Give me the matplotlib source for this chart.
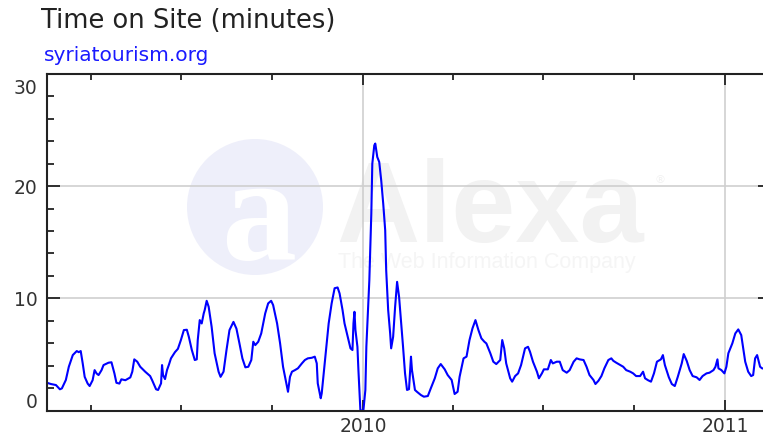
import numpy as np
import pandas as pd
import matplotlib
matplotlib.use("Agg")
import matplotlib.pyplot as plt
import matplotlib.dates as mdates
from matplotlib.patches import Ellipse
from matplotlib.ticker import MultipleLocator
from matplotlib.transforms import ScaledTranslation

# average time on site, sampled every few days from 2009-02-16
start_date = "2009-02-16"
days = [0, 4, 9, 13, 15, 19, 22, 26, 30, 32, 34, 36, 38, 41, 43, 46, 48, 50, 52, 55,
        57, 62, 65, 68, 70, 73, 75, 79, 84, 86, 88, 91, 94, 99, 104, 106, 110, 112, 115, 116,
        117, 119, 121, 123, 125, 129, 132, 135, 138, 141, 143, 146, 149, 151, 152, 154, 156, 158, 159, 161,
        163, 166, 169, 173, 175, 178, 181, 184, 188, 191, 194, 197, 200, 203, 206, 208, 210, 213, 216, 220,
        223, 226, 228, 232, 235, 238, 242, 243, 245, 247, 250, 253, 257, 260, 263, 267, 270, 272, 273, 276,
        277, 280, 284, 287, 290, 293, 295, 298, 300, 304, 306, 308, 309, 310, 311, 313, 314, 316, 319, 321,
        322, 325, 327, 328, 330, 331, 333, 335, 337, 339, 341, 342, 344, 346, 347, 349, 351, 353, 355, 357,
        359, 361, 363, 365, 367, 368, 371, 373, 377, 380, 384, 387, 391, 394, 397, 401, 404, 408, 411, 414,
        416, 420, 423, 426, 429, 432, 435, 438, 441, 443, 447, 450, 453, 457, 459, 461, 463, 467, 469, 472,
        475, 478, 482, 485, 487, 490, 494, 496, 499, 501, 505, 508, 510, 514, 517, 520, 524, 527, 531, 534,
        537, 541, 544, 547, 551, 553, 556, 559, 562, 566, 569, 571, 574, 578, 581, 584, 588, 591, 594, 598,
        601, 603, 606, 609, 612, 615, 619, 621, 623, 627, 630, 633, 636, 640, 642, 645, 648, 651, 655, 658,
        661, 665, 668, 672, 674, 676, 677, 680, 683, 685, 687, 691, 694, 697, 700, 702, 704, 707, 710, 712,
        714, 716, 719, 721, 724]
minutes = [2.47, 2.36, 2.27, 1.89, 1.97, 2.72, 3.9, 4.94, 5.3, 5.2, 5.3, 4.2, 3.0, 2.4, 2.18, 2.7, 3.6, 3.3, 3.16, 3.6,
           4.05, 4.26, 4.3, 3.3, 2.47, 2.4, 2.78, 2.7, 2.95, 3.46, 4.56, 4.35, 3.9, 3.46, 3.07, 2.7, 1.89, 1.83, 2.42, 4.05,
           3.16, 2.8, 3.6, 4.1, 4.65, 5.2, 5.5, 6.28, 7.17, 7.2, 6.57, 5.4, 4.5, 4.56, 6.28, 8.06, 7.76, 8.65, 8.95, 9.78,
           9.25, 7.46, 5.1, 3.46, 3.0, 3.46, 5.4, 7.17, 7.9, 7.3, 6.0, 4.65, 3.85, 3.9, 4.5, 6.13, 5.83, 6.13, 6.87, 8.65,
           9.55, 9.78, 9.4, 7.76, 6.0, 3.9, 2.12, 1.67, 3.0, 3.46, 3.6, 3.76, 4.2, 4.5, 4.65, 4.7, 4.8, 4.2, 2.42, 1.09,
           1.53, 4.2, 7.76, 9.55, 10.9, 10.97, 10.44, 8.95, 7.76, 6.28, 5.54, 5.39, 7.76, 8.8, 7.17, 5.68, 3.6, 0.0, 0.0, 1.83,
           5.68, 11.6, 17.56, 22.0, 23.64, 23.8, 22.6, 22.15, 20.5, 18.45, 16.07, 12.5, 8.95, 6.87, 5.54, 6.57, 9.24, 11.47, 10.13, 7.9,
           5.68, 3.31, 1.83, 1.9, 4.8, 3.6, 1.83, 1.67, 1.38, 1.23, 1.29, 1.98, 2.87, 3.76, 4.14, 3.67, 3.16, 2.72, 1.47, 1.67,
           3.0, 4.65, 4.8, 6.28, 7.32, 8.06, 7.17, 6.43, 6.13, 5.98, 5.1, 4.35, 4.14, 4.5, 6.28, 5.54, 4.2, 2.87, 2.57, 3.07,
           3.31, 4.05, 5.54, 5.68, 5.24, 4.35, 3.46, 2.87, 3.31, 3.67, 3.67, 4.5, 4.2, 4.35, 4.35, 3.6, 3.37, 3.6, 4.35, 4.65,
           4.56, 4.5, 3.9, 3.16, 2.72, 2.36, 2.65, 3.07, 3.76, 4.5, 4.65, 4.43, 4.26, 4.05, 3.9, 3.6, 3.46, 3.31, 3.07, 3.07,
           3.46, 2.87, 2.7, 2.57, 3.31, 4.35, 4.56, 4.94, 4.05, 2.96, 2.36, 2.18, 3.0, 4.2, 5.03, 4.43, 3.6, 3.07, 2.96, 2.72,
           3.07, 3.31, 3.37, 3.6, 3.9, 4.56, 3.76, 3.6, 3.31, 3.9, 5.1, 5.98, 6.87, 7.23, 6.72, 5.54, 4.35, 3.46, 3.07, 3.16,
           4.65, 4.94, 3.9, 3.76, 3.7]
y_ticks = [0, 10, 20, 30]
title = "Time on Site (minutes)"
site = "syriatourism.org"

dates = (pd.Timestamp(start_date) + pd.to_timedelta(days, unit="D")).to_pydatetime()

W, H = 763, 438
fig = plt.figure(figsize=(W / 100, H / 100), dpi=100)
ax = fig.add_axes([47 / W, 27.5 / H, 724 / W, 336.5 / H])
ax.set_axisbelow(True)

# faint Alexa watermark behind the grid
ax.add_patch(Ellipse((255 / W, 1 - 207 / H), 2 * 68 / W, 2 * 68 / H,
                     transform=fig.transFigure, facecolor="#eeeffa",
                     edgecolor="none", zorder=0.1))
ax.text(259 / W, 1 - 259 / H, "a", transform=fig.transFigure, ha="center",
        va="baseline", fontsize=108, family="Liberation Serif",
        fontweight="bold", color="white", zorder=0.2)
ax.text(336 / W, 1 - 242 / H, "Alexa", transform=fig.transFigure,
        va="baseline", fontsize=83, family="Liberation Sans",
        fontweight="bold", color="#f2f2f2", zorder=0.2)
ax.text(338 / W, 1 - 268 / H, "The Web Information Company",
        transform=fig.transFigure, va="baseline", fontsize=15.5,
        family="Liberation Sans", color="#f5f5f5", zorder=0.2)
ax.text(655 / W, 1 - 183 / H, "®", transform=fig.transFigure, va="baseline",
        fontsize=8, color="#f1f1f1", zorder=0.2)

ax.plot(dates, minutes, color="#0000ff", linewidth=1.5, zorder=2)

ax.set_xlim(pd.Timestamp(start_date).to_pydatetime(),
            (pd.Timestamp(start_date) + pd.Timedelta(days=730)).to_pydatetime())
ax.set_ylim(0, 30)

ax.xaxis.set_major_locator(mdates.YearLocator())
ax.xaxis.set_major_formatter(mdates.DateFormatter("%Y"))
ax.xaxis.set_minor_locator(mdates.MonthLocator(bymonth=[1, 4, 7, 10]))
ax.set_yticks(y_ticks)
ax.set_yticklabels([str(t) for t in y_ticks])
ax.yaxis.set_minor_locator(MultipleLocator(2))

ax.grid(True, which="major", color="#cfcfcf", linewidth=1.2)

for s in ax.spines.values():
    s.set_color("#222222")
    s.set_linewidth(1.5)

ax.tick_params(axis="x", which="major", direction="in", length=8, width=1.3,
               top=True, bottom=True, pad=5, labelsize=13.5, labelcolor="#333333",
               color="#222222")
ax.tick_params(axis="x", which="minor", direction="in", length=4.5, width=1.3,
               top=True, bottom=True, color="#222222")
ax.tick_params(axis="y", which="major", direction="in", length=9.5, width=1.3,
               left=True, right=True, pad=7, labelsize=13.5, labelcolor="#333333",
               color="#222222")
ax.tick_params(axis="y", which="minor", direction="in", length=5, width=1.3,
               left=True, right=False, color="#222222")

# keep the end labels inside the frame
ylabels = ax.get_yticklabels()
ylabels[0].set_transform(ylabels[0].get_transform()
                         + ScaledTranslation(0, 0.10, fig.dpi_scale_trans))
ylabels[-1].set_transform(ylabels[-1].get_transform()
                          + ScaledTranslation(0, -0.125, fig.dpi_scale_trans))

fig.text(41 / W, 1 - 28 / H, title, fontsize=18.5, color="#222222", va="baseline")
fig.text(44 / W, 1 - 61 / H, site, fontsize=14.5, color="#1a1aff", va="baseline")

fig.savefig("out.png", dpi=100)
